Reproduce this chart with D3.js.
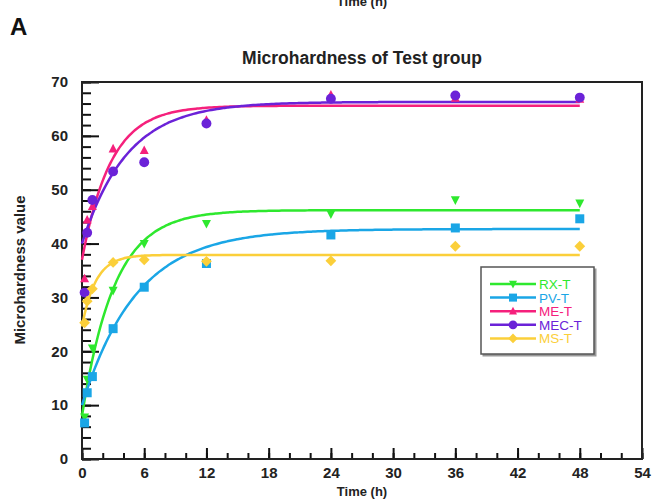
<!DOCTYPE html>
<html>
<head>
<meta charset="utf-8">
<script src="https://cdn.jsdelivr.net/npm/d3@7"></script>
<style>
  body { margin: 0; background: #fff; }
  text { font-family: "Liberation Sans", Arial, sans-serif; }
</style>
</head>
<body>
<div id="chart"></div>
<script>
// sampling times (h)
const times = [0.25, 0.5, 1, 3, 6, 12, 24, 36, 48]

// measured microhardness
const rxT  = [7.8, 14.8, 20.6, 31.3, 40.0, 43.7, 45.5, 48.1, 47.5]
const pvT  = [6.7, 12.3, 15.3, 24.2, 31.9, 36.3, 41.6, 42.9, 44.6]
const meT  = [33.5, 44.4, 46.9, 57.6, 57.3, 62.9, 67.6, 67.0, 66.8]
const mecT = [30.9, 42.0, 48.1, 53.4, 55.1, 62.3, 66.9, 67.5, 67.1]
const msT  = [25.3, 29.3, 31.6, 36.5, 37.0, 36.7, 36.8, 39.5, 39.5]

// fitted curve parameters: start, plateau, rate
const fitStart   = [8, 10, 37, 40, 24.6]
const fitPlateau = [46.2, 42.7, 65.6, 66.3, 37.9]
const fitRate    = [0.32, 0.19, 0.36, 0.23, 0.75]

const names  = ['RX-T', 'PV-T', 'ME-T', 'MEC-T', 'MS-T']
const colors = ['#2ee82e', '#1aa6e6', '#f5207c', '#6b22d8', '#fbcf3a']
const symbols = ['tri-down', 'square', 'tri-up', 'circle', 'diamond']

const xTicks = [0, 6, 12, 18, 24, 30, 36, 42, 48, 54]
const yTicks = [0, 10, 20, 30, 40, 50, 60, 70]

const width = 652, height = 499
const margin = { top: 82, right: 10, bottom: 40, left: 82 }

const svg = d3.select('#chart').append('svg')
  .attr('width', width).attr('height', height)

const x = d3.scaleLinear().domain([0, 54]).range([margin.left, width - margin.right])
const y = d3.scaleLinear().domain([0, 70]).range([height - margin.bottom, margin.top])

// y axis: major + minor ticks pointing inside
svg.append('g')
  .attr('transform', `translate(${margin.left},0)`)
  .call(d3.axisLeft(y).tickValues(d3.range(0, 71, 2)).tickSize(-9).tickFormat(''))
  .call(g => g.select('.domain').remove())
  .call(g => g.selectAll('line').attr('stroke', '#111').attr('stroke-width', 2))

svg.append('g')
  .attr('transform', `translate(${margin.left},0)`)
  .call(d3.axisLeft(y).tickValues(yTicks).tickSize(-17).tickPadding(14))
  .call(g => g.select('.domain').remove())
  .call(g => g.selectAll('line').attr('stroke', '#111').attr('stroke-width', 2))
  .call(g => g.selectAll('text').attr('font-size', 15).attr('font-weight', 'bold').attr('fill', '#222'))

// x axis
svg.append('g')
  .attr('transform', `translate(0,${y(0)})`)
  .call(d3.axisBottom(x).tickValues(d3.range(0, 55, 2)).tickSize(-6).tickFormat(''))
  .call(g => g.select('.domain').remove())
  .call(g => g.selectAll('line').attr('stroke', '#111').attr('stroke-width', 2))

svg.append('g')
  .attr('transform', `translate(0,${y(0)})`)
  .call(d3.axisBottom(x).tickValues(xTicks).tickSize(-11).tickPadding(8))
  .call(g => g.select('.domain').remove())
  .call(g => g.selectAll('line').attr('stroke', '#111').attr('stroke-width', 2))
  .call(g => g.selectAll('text').attr('font-size', 15).attr('font-weight', 'bold').attr('fill', '#222'))

// frame
svg.append('rect')
  .attr('x', x(0)).attr('y', y(70))
  .attr('width', x(54) - x(0)).attr('height', y(0) - y(70))
  .attr('fill', 'none').attr('stroke', '#222').attr('stroke-width', 2)

// fitted curves
const series = [rxT, pvT, meT, mecT, msT]
const tFine = d3.range(0, 48.01, 0.25)
const line = d3.line().x(d => x(d[0])).y(d => y(d[1])).curve(d3.curveMonotoneX)

series.forEach((vals, i) => {
  const pts = tFine.map(t => [t, fitPlateau[i] - (fitPlateau[i] - fitStart[i]) * Math.exp(-fitRate[i] * t)])
  svg.append('path')
    .attr('d', line(pts))
    .attr('fill', 'none')
    .attr('stroke', colors[i])
    .attr('stroke-width', 2.5)
})

function marker(g, kind, color, s) {
  if (kind === 'circle') {
    g.append('circle').attr('r', s * 0.55).attr('fill', color)
  } else if (kind === 'square') {
    g.append('rect').attr('x', -s / 2).attr('y', -s / 2).attr('width', s).attr('height', s).attr('fill', color)
  } else if (kind === 'diamond') {
    g.append('path').attr('d', `M0,${-s*0.6}L${s*0.6},0L0,${s*0.6}L${-s*0.6},0Z`).attr('fill', color)
  } else if (kind === 'tri-up') {
    g.append('path').attr('d', `M0,${-s*0.55}L${s*0.5},${s*0.4}L${-s*0.5},${s*0.4}Z`).attr('fill', color)
  } else {
    g.append('path').attr('d', `M0,${s*0.55}L${s*0.5},${-s*0.4}L${-s*0.5},${-s*0.4}Z`).attr('fill', color)
  }
}

// data points
series.forEach((vals, i) => {
  vals.forEach((v, j) => {
    const g = svg.append('g').attr('transform', `translate(${x(times[j])},${y(v)})`)
    marker(g, symbols[i], colors[i], 9)
  })
})

// legend
const lg = svg.append('g').attr('transform', 'translate(481,267)')
lg.append('rect').attr('x', 1.5).attr('y', 1.5).attr('width', 114).attr('height', 88)
  .attr('fill', '#999')
lg.append('rect').attr('width', 113).attr('height', 87)
  .attr('fill', '#fff').attr('stroke', '#555').attr('stroke-width', 1.5)
names.forEach((n, i) => {
  const yy = 17 + i * 13.6
  lg.append('line').attr('x1', 9).attr('x2', 55).attr('y1', yy).attr('y2', yy)
    .attr('stroke', colors[i]).attr('stroke-width', 2.5)
  const g = lg.append('g').attr('transform', `translate(32,${yy})`)
  marker(g, symbols[i], colors[i], 8)
  lg.append('text').attr('x', 58).attr('y', yy + 5).text(n)
    .attr('fill', colors[i]).attr('font-size', 13.5)
})

// titles and labels
svg.append('text').attr('x', 362).attr('y', 6).attr('text-anchor', 'middle')
  .attr('font-size', 13).attr('font-weight', 'bold').attr('fill', '#222').text('Time (h)')
svg.append('text').attr('x', 10).attr('y', 35)
  .attr('font-size', 24).attr('font-weight', 'bold').attr('fill', '#111').text('A')
svg.append('text').attr('x', 362).attr('y', 64).attr('text-anchor', 'middle')
  .attr('font-size', 17.5).attr('font-weight', 'bold').attr('fill', '#222').text('Microhardness of Test group')
svg.append('text').attr('x', 362).attr('y', 496).attr('text-anchor', 'middle')
  .attr('font-size', 13).attr('font-weight', 'bold').attr('fill', '#222').text('Time (h)')
svg.append('text').attr('transform', 'translate(25,270) rotate(-90)').attr('text-anchor', 'middle')
  .attr('font-size', 15).attr('font-weight', 'bold').attr('fill', '#222').text('Microhardness value')
</script>
</body>
</html>
